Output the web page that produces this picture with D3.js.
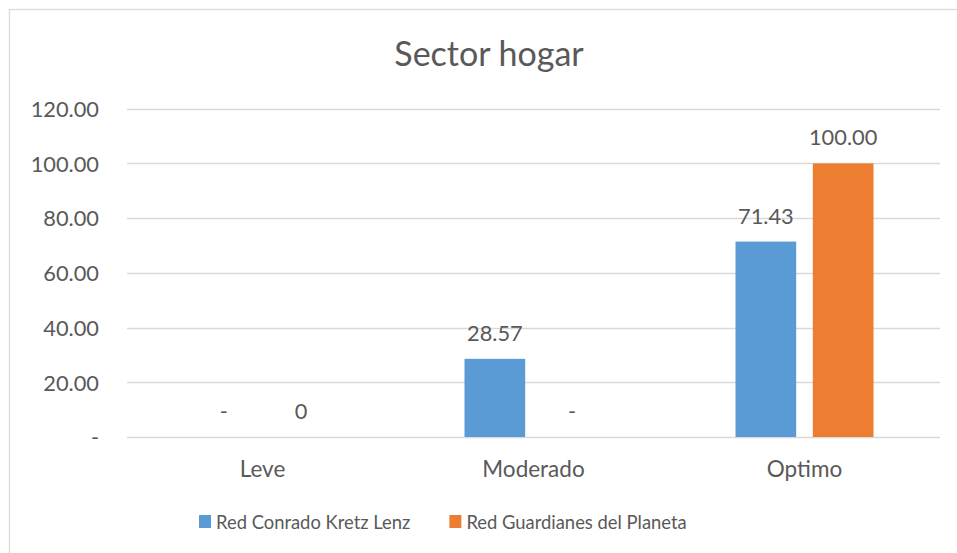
<!DOCTYPE html>
<html>
<head>
<meta charset="utf-8">
<script src="https://cdn.jsdelivr.net/npm/d3@7"></script>
<style>
  html, body { margin: 0; padding: 0; background: #fff; }
  svg { display: block; }
  text { font-family: Lato, "Liberation Sans", sans-serif; fill: #595959; }
</style>
</head>
<body>
<svg id="chart" width="957" height="553"></svg>
<script>
const title = "Sector hogar";
const categories = ["Leve", "Moderado", "Optimo"];
const seriesNames = ["Red Conrado Kretz Lenz", "Red Guardianes del Planeta"];
const seriesColors = ["#5B9BD5", "#ED7D31"];
const conradoValues = [0, 28.57, 71.43];
const guardianesValues = [0, 0, 100.00];
const conradoLabels = ["-", "28.57", "71.43"];
const guardianesLabels = ["0", "-", "100.00"];
const yTicks = [0, 20, 40, 60, 80, 100, 120];
const yTickLabels = ["-", "20.00", "40.00", "60.00", "80.00", "100.00", "120.00"];

const seriesValues = [conradoValues, guardianesValues];
const seriesLabels = [conradoLabels, guardianesLabels];

const svg = d3.select("#chart");
const W = 957, H = 553;
const plot = { left: 127, right: 940, top: 108.7, bottom: 437 };
const FONT = "Lato, 'Liberation Sans', sans-serif";

// chart border (extends beyond the visible area on right/bottom)
svg.append("rect")
  .attr("x", 9.5).attr("y", 9.5)
  .attr("width", W + 20).attr("height", H + 20)
  .attr("fill", "#fff").attr("stroke", "#D9D9D9").attr("stroke-width", 1.3);

// title
svg.append("text")
  .attr("x", 489).attr("y", 66)
  .attr("text-anchor", "middle")
  .style("font-size", "34px")
  .text(title);

const y = d3.scaleLinear().domain([0, 120]).range([plot.bottom, plot.top]);
const x0 = d3.scaleBand().domain(categories).range([plot.left, plot.right]).paddingInner(0).paddingOuter(0);
const groupPad = 66.5;
const x1 = d3.scaleBand().domain(d3.range(seriesNames.length))
  .range([groupPad, x0.bandwidth() - groupPad]).paddingInner(0.215).paddingOuter(0);

// gridlines
svg.append("g").selectAll("line").data(yTicks).join("line")
  .attr("x1", plot.left).attr("x2", plot.right)
  .attr("y1", d => Math.round(y(d)) + 0.5).attr("y2", d => Math.round(y(d)) + 0.5)
  .attr("stroke", "#D9D9D9").attr("stroke-width", 1.3);

// y axis labels
const yAxis = d3.axisLeft(y).tickValues(yTicks)
  .tickFormat((d, i) => yTickLabels[i]).tickSize(0).tickPadding(0);
const gy = svg.append("g").attr("transform", `translate(${plot.left - 28},0)`).call(yAxis);
gy.select(".domain").remove();
gy.selectAll("text").style("font-size", "21.8px").style("font-family", FONT)
  .attr("fill", "#595959").attr("dy", "0.36em");

// x axis labels
const xAxis = d3.axisBottom(x0).tickSize(0).tickPadding(0);
const gx = svg.append("g").attr("transform", `translate(0,${plot.bottom})`).call(xAxis);
gx.select(".domain").remove();
gx.selectAll("text").style("font-size", "22.5px").style("font-family", FONT)
  .attr("fill", "#595959").attr("y", 39.5).attr("dy", 0);

// bars
const data = [];
categories.forEach((c, ci) => {
  seriesNames.forEach((s, si) => {
    data.push({ c, si, v: seriesValues[si][ci], label: seriesLabels[si][ci] });
  });
});

svg.append("g").selectAll("rect").data(data.filter(d => d.v > 0)).join("rect")
  .attr("x", d => x0(d.c) + x1(d.si))
  .attr("y", d => y(d.v))
  .attr("width", x1.bandwidth())
  .attr("height", d => y(0) - y(d.v))
  .attr("fill", d => seriesColors[d.si]);

svg.append("g").selectAll("text").data(data).join("text")
  .attr("x", d => x0(d.c) + x1(d.si) + x1.bandwidth() / 2)
  .attr("y", d => y(d.v) - 18)
  .attr("text-anchor", "middle")
  .style("font-size", "21.8px")
  .text(d => d.label);

// legend
const legend = svg.append("g");
let lx = 199;
seriesNames.forEach((s, i) => {
  legend.append("rect").attr("x", lx).attr("y", 515).attr("width", 12).attr("height", 13)
    .attr("fill", seriesColors[i]);
  const t = legend.append("text").attr("x", lx + 17).attr("y", 529)
    .style("font-size", "18.4px").text(s);
  lx += 17 + t.node().getComputedTextLength() + 39;
});
</script>
</body>
</html>
